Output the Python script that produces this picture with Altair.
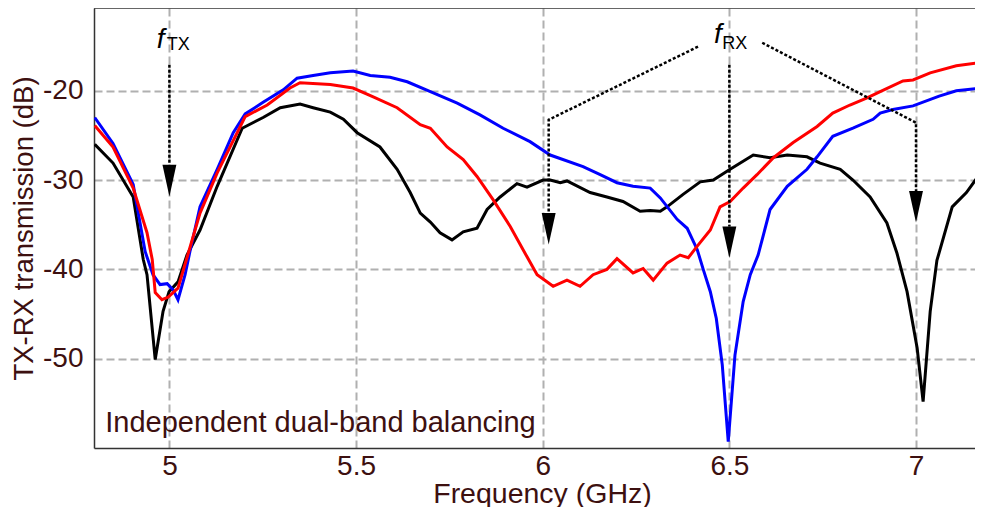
import altair as alt
import pandas as pd

# ---------------- data ----------------
blue_f = [4.80, 4.849, 4.903, 4.935, 4.956, 4.975, 4.994, 5.010, 5.023, 5.042, 5.055, 5.082,
          5.128, 5.171, 5.203, 5.251, 5.305, 5.342, 5.385, 5.431, 5.492, 5.538, 5.591, 5.637,
          5.699, 5.771, 5.832, 5.894, 5.966, 6.020, 6.108, 6.154, 6.199, 6.242, 6.288, 6.315,
          6.360, 6.387, 6.414, 6.430, 6.449, 6.465, 6.481, 6.497, 6.515, 6.537, 6.556, 6.577,
          6.609, 6.655, 6.708, 6.735, 6.777, 6.831, 6.885, 6.904, 6.938, 6.992, 7.062, 7.108, 7.18]
blue_db = [-23.0, -25.9, -30.5, -38.0, -40.6, -41.7, -41.6, -42.3, -43.4, -40.6, -38.0, -33.0,
           -28.8, -24.7, -22.6, -21.3, -19.9, -18.6, -18.3, -18.0, -17.8, -18.3, -18.5, -19.0,
           -20.1, -21.4, -22.7, -24.2, -25.7, -27.2, -28.5, -29.4, -30.3, -30.7, -30.9, -32.0,
           -34.4, -35.4, -37.8, -40.0, -42.5, -45.5, -50.7, -59.3, -49.6, -43.6, -40.6, -38.4,
           -33.3, -30.7, -28.8, -27.4, -25.1, -24.2, -23.2, -22.5, -22.1, -21.7, -20.6, -20.0, -19.7]

red_f = [4.80, 4.849, 4.903, 4.940, 4.954, 4.962, 4.980, 4.997, 5.023, 5.047, 5.082, 5.128,
         5.203, 5.262, 5.323, 5.350, 5.431, 5.492, 5.546, 5.610, 5.672, 5.699, 5.744, 5.787,
         5.824, 5.867, 5.913, 5.958, 5.985, 6.028, 6.065, 6.100, 6.135, 6.172, 6.199, 6.242,
         6.269, 6.296, 6.333, 6.368, 6.390, 6.414, 6.449, 6.475, 6.502, 6.537, 6.574, 6.618,
         6.671, 6.735, 6.777, 6.823, 6.869, 6.904, 6.965, 6.992, 7.038, 7.108, 7.18]
red_db = [-23.9, -26.3, -30.9, -35.9, -38.9, -42.6, -43.4, -43.1, -42.1, -38.7, -33.7, -29.2,
          -22.9, -21.6, -19.7, -19.1, -19.3, -19.7, -20.7, -21.9, -23.8, -24.2, -26.3, -27.7,
          -29.6, -32.2, -35.2, -38.6, -40.6, -41.9, -41.2, -41.9, -40.6, -40.0, -38.8, -40.4,
          -39.9, -41.2, -39.3, -38.4, -38.7, -37.4, -35.6, -33.0, -32.4, -30.9, -29.4, -27.5,
          -25.8, -24.0, -22.5, -21.6, -20.8, -20.1, -18.9, -18.8, -18.0, -17.2, -16.8]

black_f = [4.80, 4.849, 4.903, 4.930, 4.940, 4.962, 4.983, 4.999, 5.023, 5.047, 5.082, 5.128,
           5.195, 5.251, 5.297, 5.350, 5.385, 5.431, 5.466, 5.503, 5.564, 5.610, 5.645, 5.672,
           5.699, 5.725, 5.757, 5.787, 5.824, 5.851, 5.886, 5.931, 5.958, 6.001, 6.020, 6.047,
           6.065, 6.127, 6.172, 6.215, 6.261, 6.288, 6.315, 6.333, 6.376, 6.422, 6.457, 6.502,
           6.564, 6.609, 6.655, 6.708, 6.743, 6.797, 6.831, 6.877, 6.922, 6.949, 6.976, 7.003,
           7.019, 7.038, 7.056, 7.097, 7.135, 7.18]
black_db = [-26.0, -28.1, -31.9, -38.9, -40.6, -50.1, -44.7, -42.5, -41.4, -38.4, -35.6, -30.7,
            -24.2, -23.0, -21.9, -21.5, -21.9, -22.4, -23.2, -24.7, -26.3, -28.8, -31.4, -33.7,
            -34.7, -35.9, -36.7, -35.8, -35.4, -33.3, -31.9, -30.4, -30.8, -30.0, -30.0, -30.3,
            -30.1, -31.4, -31.9, -32.4, -33.5, -33.4, -33.5, -33.0, -31.6, -30.2, -30.0, -28.8,
            -27.2, -27.5, -27.2, -27.4, -28.1, -28.8, -30.0, -31.9, -34.8, -38.2, -42.5, -48.8,
            -54.8, -44.7, -39.0, -33.0, -31.4, -28.8]

# annotation arrows (dotted polylines) in data units
arrow_id = ["tx", "tx", "rxc", "rxc", "rxl", "rxl", "rxl", "rxr", "rxr", "rxr"]
arrow_order = [0, 1, 0, 1, 0, 1, 2, 0, 1, 2]
arrow_f = [5.0, 5.0, 6.5, 6.5, 6.416, 6.016, 6.016, 6.588, 7.0, 7.0]
arrow_db = [-17.1, -28.3, -17.1, -35.2, -15.07, -23.25, -33.66, -14.63, -23.58, -31.3]

head_f = [5.0, 6.5, 6.016, 7.0]
head_db = [-30.07, -36.96, -35.45, -32.99]

x_ticks = [5, 5.5, 6, 6.5, 7]
y_ticks = [-50, -40, -30, -20]

x_title = "Frequency (GHz)"
y_title = "TX-RX transmission (dB)"
note = "Independent dual-band balancing"

# ---------------- styling ----------------
TEXT = "#3d1010"
FONT = "Liberation Sans"
XDOM = [4.798, 7.158]
YDOM = [-60, -10.74]
W, H = 881, 440

xs = alt.Scale(domain=XDOM, nice=False, zero=False)
ys = alt.Scale(domain=YDOM, nice=False, zero=False)

x_axis = alt.Axis(values=x_ticks, labelExpr="'' + datum.value", title=x_title,
                  grid=True, gridColor="#b0b0b0", gridDash=[8, 4], gridWidth=2,
                  domain=True, domainColor="#333333", domainWidth=1.5,
                  ticks=False, tickSize=0, labelFont=FONT, labelFontSize=28,
                  labelColor=TEXT, labelPadding=4, titleFont=FONT, titleFontSize=28.5,
                  titleFontWeight="normal", titleColor=TEXT, titleX=448, titleY=54,
                  titleBaseline="alphabetic", titleAlign="center")
y_axis = alt.Axis(values=y_ticks, labelExpr="'' + datum.value", title=y_title,
                  grid=True, gridColor="#b0b0b0", gridDash=[8, 4], gridWidth=2,
                  domain=True, domainColor="#333333", domainWidth=1.5,
                  ticks=False, tickSize=0, labelFont=FONT, labelFontSize=28,
                  labelColor=TEXT, labelPadding=11, titleFont=FONT, titleFontSize=27.5,
                  titleFontWeight="normal", titleColor=TEXT, titlePadding=4)


def series(fs, dbs, color, with_axes=False):
    d = pd.DataFrame({"f": fs, "db": dbs})
    return alt.Chart(d).mark_line(strokeWidth=3, clip=True, color=color).encode(
        x=alt.X("f:Q", scale=xs, axis=x_axis if with_axes else None),
        y=alt.Y("db:Q", scale=ys, axis=y_axis if with_axes else None),
    )


black = series(black_f, black_db, "#000000", with_axes=True)
blue = series(blue_f, blue_db, "#0000ff")
red = series(red_f, red_db, "#ff0000")

# top border of the frame, drawn through the scales
frame_df = pd.DataFrame({"f": [XDOM[0]], "f2": [XDOM[1]], "db": [YDOM[1]]})
frame_top = alt.Chart(frame_df).mark_rule(color="#333333", strokeWidth=1.5).encode(
    x=alt.X("f:Q", scale=xs, axis=None),
    x2="f2:Q",
    y=alt.Y("db:Q", scale=ys, axis=None),
)

arr_df = pd.DataFrame({"id": arrow_id, "o": arrow_order, "f": arrow_f, "db": arrow_db})
arrows = alt.Chart(arr_df).mark_line(color="black", strokeWidth=2.5, strokeDash=[3, 2]).encode(
    x=alt.X("f:Q", scale=xs, axis=None),
    y=alt.Y("db:Q", scale=ys, axis=None),
    detail="id:N",
    order="o:Q",
)

head_df = pd.DataFrame({"f": head_f, "db": head_db})
heads = alt.Chart(head_df).mark_point(
    shape="M-0.44,-1L0.44,-1L0,1Z", size=1000, filled=True, color="black", opacity=1
).encode(
    x=alt.X("f:Q", scale=xs, axis=None),
    y=alt.Y("db:Q", scale=ys, axis=None),
)


def label(txt, f, db, size, color, italic=False):
    d = pd.DataFrame({"t": [txt], "f": [f], "db": [db]})
    kw = dict(font=FONT, fontSize=size, color=color, align="left", baseline="alphabetic")
    if italic:
        kw["fontStyle"] = "italic"
    return alt.Chart(d).mark_text(**kw).encode(
        x=alt.X("f:Q", scale=xs, axis=None),
        y=alt.Y("db:Q", scale=ys, axis=None),
        text="t:N",
    )


texts = [
    label("f", 4.966, -15.25, 28, "black", italic=True),
    label("TX", 4.993, -15.41, 18, "black"),
    label("f", 6.459, -14.63, 28, "black", italic=True),
    label("RX", 6.481, -15.33, 18, "black"),
    label(note, 4.828, -58.17, 29, TEXT),
]

chart = alt.layer(black, blue, red, frame_top, arrows, heads, *texts).resolve_axis(
    x="independent", y="independent"
).properties(
    width=W, height=H,
    autosize=alt.AutoSizeParams(type="none"),
    padding={"left": 86, "top": 0, "right": 0, "bottom": 59},
    background="white",
).configure_view(strokeWidth=0)

chart.save("out.html", embed_options={"renderer": "svg", "actions": False})
